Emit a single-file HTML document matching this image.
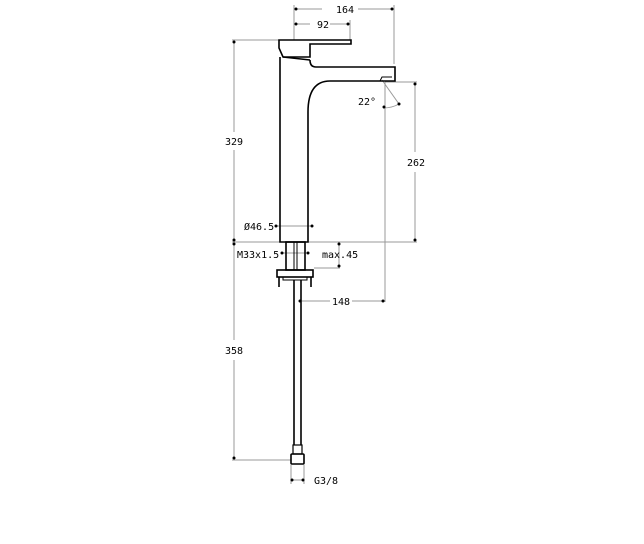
<!DOCTYPE html>
<html><head><meta charset="utf-8"><style>
html,body{margin:0;padding:0;background:#fff;}
svg{display:block}
text{font-family:"DejaVu Sans Mono","Liberation Mono",monospace;font-size:10px;fill:#000}
</style></head><body>
<svg width="644" height="544" viewBox="0 0 644 544" xmlns="http://www.w3.org/2000/svg">
<g stroke="#999" stroke-width="1" fill="none">
<!-- extension lines -->
<line x1="294" y1="5" x2="294" y2="40"/>
<line x1="394" y1="5" x2="394" y2="64"/>
<line x1="350" y1="20" x2="350" y2="40"/>
<line x1="232" y1="40" x2="280" y2="40"/>
<line x1="232" y1="242" x2="417" y2="242"/>
<line x1="385" y1="82" x2="417" y2="82"/>
<line x1="385" y1="82" x2="385" y2="302"/>
<line x1="314" y1="268" x2="340" y2="268"/>
<line x1="232" y1="460" x2="291" y2="460"/>
<line x1="291" y1="465" x2="291" y2="484"/>
<line x1="304" y1="465" x2="304" y2="484"/>
<!-- dim lines -->
<line x1="294" y1="9" x2="322" y2="9"/><line x1="358" y1="9" x2="394" y2="9"/>
<line x1="294" y1="24" x2="310" y2="24"/><line x1="330" y1="24" x2="350" y2="24"/>
<line x1="234" y1="40" x2="234" y2="132"/><line x1="234" y1="150" x2="234" y2="242"/>
<line x1="234" y1="242" x2="234" y2="340"/><line x1="234" y1="360" x2="234" y2="460"/>
<line x1="415" y1="82" x2="415" y2="152"/><line x1="415" y1="172" x2="415" y2="242"/>
<line x1="275" y1="226" x2="313" y2="226"/>
<line x1="281" y1="253" x2="309" y2="253"/>
<line x1="299" y1="301" x2="330" y2="301"/><line x1="352" y1="301" x2="385" y2="301"/>
<line x1="339" y1="242" x2="339" y2="268"/>
<line x1="291" y1="480" x2="304" y2="480"/>
<line x1="382" y1="80" x2="399" y2="104"/>
<path d="M383 108 Q392 108 399 104"/>
</g>
<g fill="#000">
<circle cx="296" cy="9" r="1.5"/><circle cx="392" cy="9" r="1.5"/>
<circle cx="296" cy="24" r="1.5"/><circle cx="348" cy="24" r="1.5"/>
<circle cx="234" cy="42" r="1.5"/><circle cx="234" cy="240" r="1.5"/><circle cx="234" cy="244" r="1.5"/><circle cx="234" cy="458" r="1.5"/>
<circle cx="415" cy="84" r="1.5"/><circle cx="415" cy="240" r="1.5"/>
<circle cx="276" cy="226" r="1.5"/><circle cx="312" cy="226" r="1.5"/>
<circle cx="282" cy="253" r="1.5"/><circle cx="308" cy="253" r="1.5"/>
<circle cx="300" cy="301" r="1.5"/><circle cx="383" cy="301" r="1.5"/>
<circle cx="339" cy="244" r="1.5"/><circle cx="339" cy="266" r="1.5"/>
<circle cx="292" cy="480" r="1.5"/><circle cx="303" cy="480" r="1.5"/>
<circle cx="384" cy="107" r="1.5"/><circle cx="399" cy="104" r="1.5"/>
</g>
<g stroke="#000" stroke-width="1.6" fill="none">
<!-- lever -->
<path d="M279 40 L351 40 L351 44 L310 44 L310 57 L283 57 L279 48 Z"/>
<line x1="283" y1="57" x2="310" y2="60"/>
<!-- body -->
<path d="M280 57 L280 242 L308 242 L308 112 Q308 81 330 81 L395 81 L395 67 L316 67 Q310 67 310 60"/>
<path d="M380 81 L382 77 L392 77" stroke-width="1"/>
<!-- shank -->
<rect x="286" y="242" width="19" height="28"/>
<line x1="294" y1="242" x2="294" y2="270" stroke-width="1"/>
<line x1="297" y1="242" x2="297" y2="270" stroke-width="1"/>
<rect x="277" y="270" width="36" height="7"/>
<rect x="283" y="277" width="24" height="3" stroke-width="1"/>
<line x1="279" y1="277" x2="279" y2="287"/><line x1="311" y1="277" x2="311" y2="287"/>
<!-- hose -->
<line x1="294" y1="280" x2="294" y2="445"/><line x1="301" y1="280" x2="301" y2="445"/>
<rect x="293" y="445" width="9" height="9" stroke-width="1.2"/>
<rect x="291" y="454" width="13" height="10" rx="1"/>
</g>
<text x="336" y="13">164</text>
<text x="317" y="28">92</text>
<text x="225" y="145">329</text>
<text x="358" y="105">22°</text>
<text x="407" y="166">262</text>
<text x="244" y="230">Ø46.5</text>
<text x="237" y="258">M33x1.5</text>
<text x="322" y="258">max.45</text>
<text x="332" y="305">148</text>
<text x="225" y="354">358</text>
<text x="314" y="484">G3/8</text>
</svg>
</body></html>
